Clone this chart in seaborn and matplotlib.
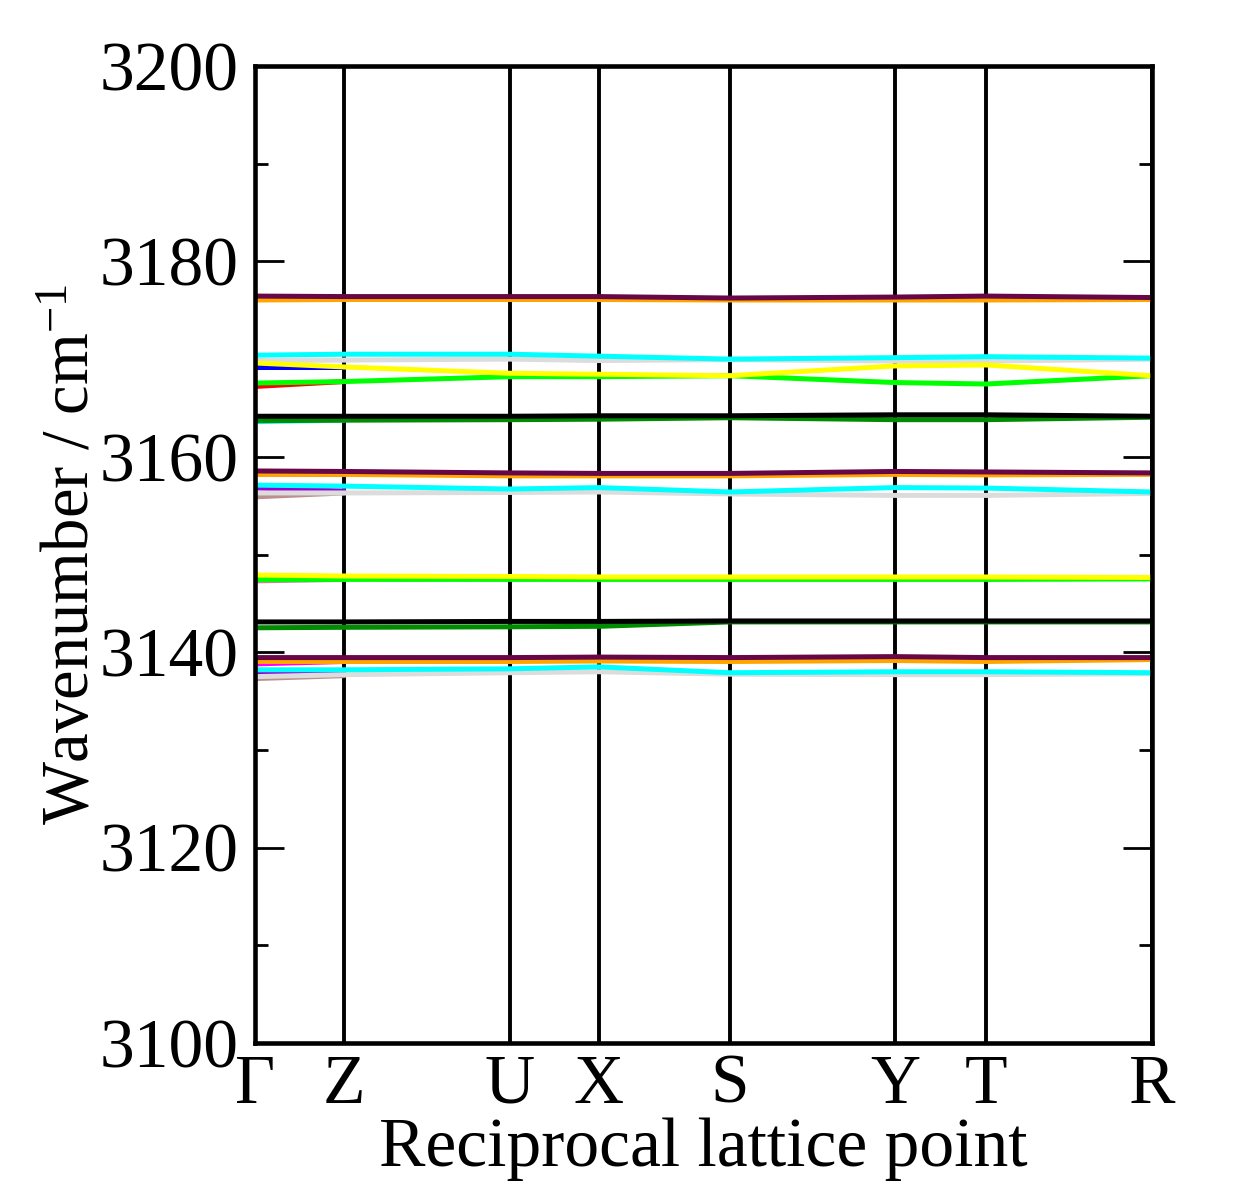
import matplotlib
matplotlib.use("Agg")
import matplotlib.pyplot as plt
import seaborn as sns
import pandas as pd
from matplotlib.ticker import MultipleLocator

# ---------------- data ----------------
k_labels = ["Γ", "Z", "U", "X", "S", "Y", "T", "R"]
k_pos = [0.0, 0.0992, 0.284, 0.3835, 0.5295, 0.7135, 0.815, 1.0]

# short branches near Γ (values at Γ and Z)
stub_brown_a = [3137.3, 3137.6]
stub_violet_a = [3137.8, 3137.7]
stub_magenta_a = [3138.8, 3139.05]
stub_brown_c = [3147.3, 3147.45]
stub_blue_c = [3147.55, 3147.5]
stub_brown_d = [3155.9, 3156.3]
stub_violet_d = [3156.8, 3156.5]
stub_magenta_d = [3158.25, 3158.2]
stub_cyan_e = [3163.6, 3163.75]
stub_red_f = [3167.2, 3167.7]
stub_blue_f = [3169.2, 3169.2]

# full branches (values at Γ Z U X S Y T R)
gray_a = [3137.5, 3137.7, 3137.9, 3138.0, 3137.75, 3137.7, 3137.7, 3137.8]
cyan_a = [3138.2, 3138.2, 3138.3, 3138.5, 3137.9, 3138.0, 3138.0, 3137.9]
orange_a = [3139.05, 3139.05, 3139.05, 3139.1, 3139.05, 3139.15, 3139.05, 3139.25]
maroon_a = [3139.45, 3139.45, 3139.45, 3139.5, 3139.45, 3139.55, 3139.45, 3139.45]

dkgreen_b = [3142.5, 3142.55, 3142.6, 3142.65, 3143.1, 3143.1, 3143.1, 3143.1]
black_b = [3143.1, 3143.1, 3143.15, 3143.15, 3143.2, 3143.2, 3143.2, 3143.2]

green_c = [3147.45, 3147.45, 3147.45, 3147.45, 3147.45, 3147.45, 3147.45, 3147.5]
yellow_c = [3147.9, 3147.8, 3147.75, 3147.7, 3147.7, 3147.7, 3147.7, 3147.65]

gray_d = [3156.3, 3156.3, 3156.35, 3156.4, 3156.2, 3156.05, 3156.05, 3156.25]
cyan_d = [3157.1, 3157.0, 3156.7, 3156.85, 3156.4, 3156.85, 3156.8, 3156.4]
orange_d = [3158.2, 3158.2, 3158.05, 3158.05, 3158.05, 3158.2, 3158.15, 3158.2]
maroon_d = [3158.55, 3158.5, 3158.35, 3158.3, 3158.3, 3158.5, 3158.45, 3158.35]

dkgreen_e = [3163.7, 3163.75, 3163.8, 3163.85, 3164.0, 3163.8, 3163.8, 3164.05]
black_e = [3164.15, 3164.15, 3164.15, 3164.2, 3164.2, 3164.3, 3164.3, 3164.15]

green_f = [3167.55, 3167.7, 3168.2, 3168.2, 3168.3, 3167.6, 3167.45, 3168.3]
yellow_f = [3169.6, 3169.2, 3168.55, 3168.45, 3168.3, 3169.3, 3169.4, 3168.3]
gray_f = [3169.85, 3169.9, 3170.0, 3169.85, 3169.95, 3169.8, 3169.8, 3170.0]
cyan_f = [3170.4, 3170.5, 3170.5, 3170.3, 3170.0, 3170.15, 3170.25, 3170.1]

orange_g = [3176.05, 3176.1, 3176.1, 3176.1, 3176.05, 3176.05, 3176.05, 3176.1]
maroon_g = [3176.45, 3176.4, 3176.4, 3176.4, 3176.25, 3176.35, 3176.45, 3176.3]

# grace-like colours
C = {"black": "#000000", "red": "#FF0000", "green": "#00FF00", "blue": "#0000FF",
     "yellow": "#FFFF00", "brown": "#BC8F8F", "gray": "#DCDCDC", "violet": "#9400D3",
     "cyan": "#00FFFF", "magenta": "#FF00FF", "orange": "#FFA500",
     "maroon": "#670748", "dkgreen": "#008B00"}

# drawing order (later on top)
bands = [
    ("stub_brown_a", stub_brown_a, "brown"), ("stub_violet_a", stub_violet_a, "violet"),
    ("stub_magenta_a", stub_magenta_a, "magenta"), ("stub_brown_c", stub_brown_c, "brown"),
    ("stub_blue_c", stub_blue_c, "blue"), ("stub_brown_d", stub_brown_d, "brown"),
    ("stub_violet_d", stub_violet_d, "violet"), ("stub_magenta_d", stub_magenta_d, "magenta"),
    ("stub_cyan_e", stub_cyan_e, "cyan"), ("stub_red_f", stub_red_f, "red"),
    ("stub_blue_f", stub_blue_f, "blue"),
    ("gray_a", gray_a, "gray"), ("gray_d", gray_d, "gray"), ("gray_f", gray_f, "gray"),
    ("green_c", green_c, "green"), ("green_f", green_f, "green"),
    ("dkgreen_b", dkgreen_b, "dkgreen"), ("dkgreen_e", dkgreen_e, "dkgreen"),
    ("orange_a", orange_a, "orange"), ("orange_d", orange_d, "orange"), ("orange_g", orange_g, "orange"),
    ("yellow_c", yellow_c, "yellow"), ("yellow_f", yellow_f, "yellow"),
    ("cyan_a", cyan_a, "cyan"), ("cyan_d", cyan_d, "cyan"), ("cyan_f", cyan_f, "cyan"),
    ("maroon_a", maroon_a, "maroon"), ("maroon_d", maroon_d, "maroon"), ("maroon_g", maroon_g, "maroon"),
    ("black_b", black_b, "black"), ("black_e", black_e, "black"),
]

rows = []
for name, vals, _ in bands:
    for kx, v in zip(k_pos[:len(vals)], vals):
        rows.append({"band": name, "k": kx, "freq": v})
df = pd.DataFrame(rows)
palette = {name: C[col] for name, _, col in bands}
order = [name for name, _, _ in bands]

# ---------------- plot ----------------
sns.set_theme(style="ticks")
plt.rcParams["font.family"] = ["Liberation Serif", "DejaVu Serif"]
plt.rcParams["mathtext.fontset"] = "custom"
plt.rcParams["mathtext.rm"] = "Liberation Serif"
plt.rcParams["mathtext.it"] = "Liberation Serif:italic"
for key in ["text.color", "axes.labelcolor", "xtick.color", "ytick.color", "axes.edgecolor"]:
    plt.rcParams[key] = "black"

fig = plt.figure(figsize=(12.42, 11.87), dpi=100)
fig.patch.set_facecolor("white")
ax = fig.add_axes([0.2053, 0.1213, 0.7222, 0.8231])

for kx in k_pos:
    ax.axvline(kx, color="black", lw=2.8, zorder=1)

sns.lineplot(data=df, x="k", y="freq", hue="band", hue_order=order, palette=palette,
             estimator=None, sort=False, legend=False, lw=3.6, ax=ax, zorder=2)

ax.set_xlim(k_pos[0], k_pos[-1])
ax.set_ylim(3100, 3200)
ax.set_xticks(k_pos)
ax.set_xticklabels(k_labels)
ax.yaxis.set_major_locator(MultipleLocator(20))
ax.yaxis.set_minor_locator(MultipleLocator(10))
ax.tick_params(axis="y", which="major", direction="in", length=21, width=2,
               left=True, right=True, labelsize=50, pad=12)
ax.tick_params(axis="y", which="minor", direction="in", length=9.5, width=2,
               left=True, right=True)
ax.tick_params(axis="x", length=0, labelsize=50, pad=8)
for s in ax.spines.values():
    s.set_linewidth(3.3)
    s.set_color("black")

ax.set_xlabel("Reciprocal lattice point", fontsize=50, labelpad=0)
ax.set_ylabel("Wavenumber / cm$^{-1}$", fontsize=48, labelpad=-2)

fig.savefig("out.png", dpi=100, facecolor="white")
